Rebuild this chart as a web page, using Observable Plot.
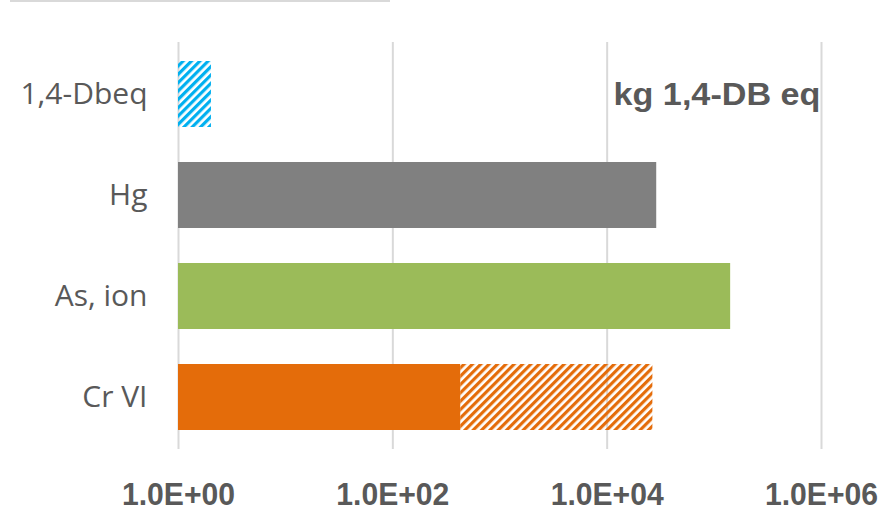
<!DOCTYPE html>
<html>
<head>
<meta charset="utf-8">
<script src="https://cdn.jsdelivr.net/npm/d3@7"></script>
<script src="https://cdn.jsdelivr.net/npm/@observablehq/plot@0.6"></script>
<style>
  html, body { margin: 0; padding: 0; background: #fff; }
  #wrap { position: relative; width: 882px; height: 511px; overflow: hidden; }
  #topline { position: absolute; left: 10px; top: 0; width: 380px; height: 2px; background: #d9d9d9; }
</style>
</head>
<body>
<div id="wrap"><div id="topline"></div></div>
<script>
// Data (log scale, kg 1,4-DB eq)
const categories = ["1,4-Dbeq", "Hg", "As, ion", "Cr VI"];
const solidTo = [1, 29000, 142000, 430];       // end of solid segment (1 = no solid part)
const totalTo = [2.03, 29000, 142000, 26700];  // end of full bar (hatched part beyond solid)
const colors = ["#00B0F0", "#808080", "#9BBB59", "#E46C0A"];
const xTicks = [1, 1e2, 1e4, 1e6];
const xTickLabels = ["1.0E+00", "1.0E+02", "1.0E+04", "1.0E+06"];
const unitLabel = "kg 1,4-DB eq";

const solidData = categories
  .map((c, i) => ({cat: c, x1: 1, x2: solidTo[i], color: colors[i]}))
  .filter(d => d.x2 > d.x1);
const hatchData = categories
  .map((c, i) => ({cat: c, x1: solidTo[i], x2: totalTo[i], idx: i}))
  .filter(d => d.x2 > d.x1);

const textColor = "#595959";

const chart = Plot.plot({
  width: 882,
  height: 511,
  marginLeft: 178,
  marginRight: 61,
  marginTop: 42,
  marginBottom: 62,
  x: {type: "log", domain: [1, 1e6]},
  y: {domain: categories, paddingInner: 0.35, paddingOuter: 0.175},
  color: {type: "identity"},
  marks: [
    Plot.ruleX(xTicks, {stroke: "#d9d9d9", strokeWidth: 2}),
    Plot.barX(solidData, {y: "cat", x1: "x1", x2: "x2", fill: "color"}),
    ...hatchData.map(d => Plot.barX([d], {y: "cat", x1: "x1", x2: "x2", fill: `url(#hatch-${d.idx})`})),
    Plot.axisX({
      ticks: xTicks,
      tickFormat: (d) => xTickLabels[xTicks.indexOf(d)],
      tickSize: 0,
      tickPadding: 33,
      fontSize: 31.5,
      fontWeight: "bold",
      fontFamily: "'Liberation Sans', Arial, sans-serif",
      fill: textColor,
      className: "xlabels",
      label: null
    }),
    Plot.axisY({
      tickSize: 0,
      tickPadding: 31,
      fontSize: 30,
      fontFamily: "'Open Sans', sans-serif",
      fill: textColor,
      label: null
    }),
    Plot.text([unitLabel], {
      frameAnchor: "top-right",
      textAnchor: "end",
      lineAnchor: "middle",
      dx: -1,
      dy: 53,
      fontSize: 31,
      fontWeight: "bold",
      fontFamily: "'Liberation Sans', Arial, sans-serif",
      fill: textColor,
      className: "unit-label"
    })
  ]
});

// Hatch patterns
const svgNS = "http://www.w3.org/2000/svg";
const defs = document.createElementNS(svgNS, "defs");
colors.forEach((c, i) => {
  const p = document.createElementNS(svgNS, "pattern");
  p.setAttribute("id", `hatch-${i}`);
  p.setAttribute("patternUnits", "userSpaceOnUse");
  p.setAttribute("width", "5.9");
  p.setAttribute("height", "5.9");
  p.setAttribute("patternTransform", "rotate(45)");
  const r = document.createElementNS(svgNS, "rect");
  r.setAttribute("x", "0");
  r.setAttribute("y", "0");
  r.setAttribute("width", "3.2");
  r.setAttribute("height", "5.9");
  r.setAttribute("fill", c);
  p.appendChild(r);
  defs.appendChild(p);
});
chart.insertBefore(defs, chart.firstChild);

// condense / stretch texts like the original (narrow bold tick labels, wide unit label)
chart.querySelectorAll(".xlabels text").forEach(t => {
  t.setAttribute("textLength", "113");
  t.setAttribute("lengthAdjust", "spacingAndGlyphs");
});
const ul = chart.querySelector(".unit-label text");
if (ul) { ul.setAttribute("textLength", "207"); ul.setAttribute("lengthAdjust", "spacingAndGlyphs"); }

document.getElementById("wrap").appendChild(chart);
</script>
</body>
</html>
